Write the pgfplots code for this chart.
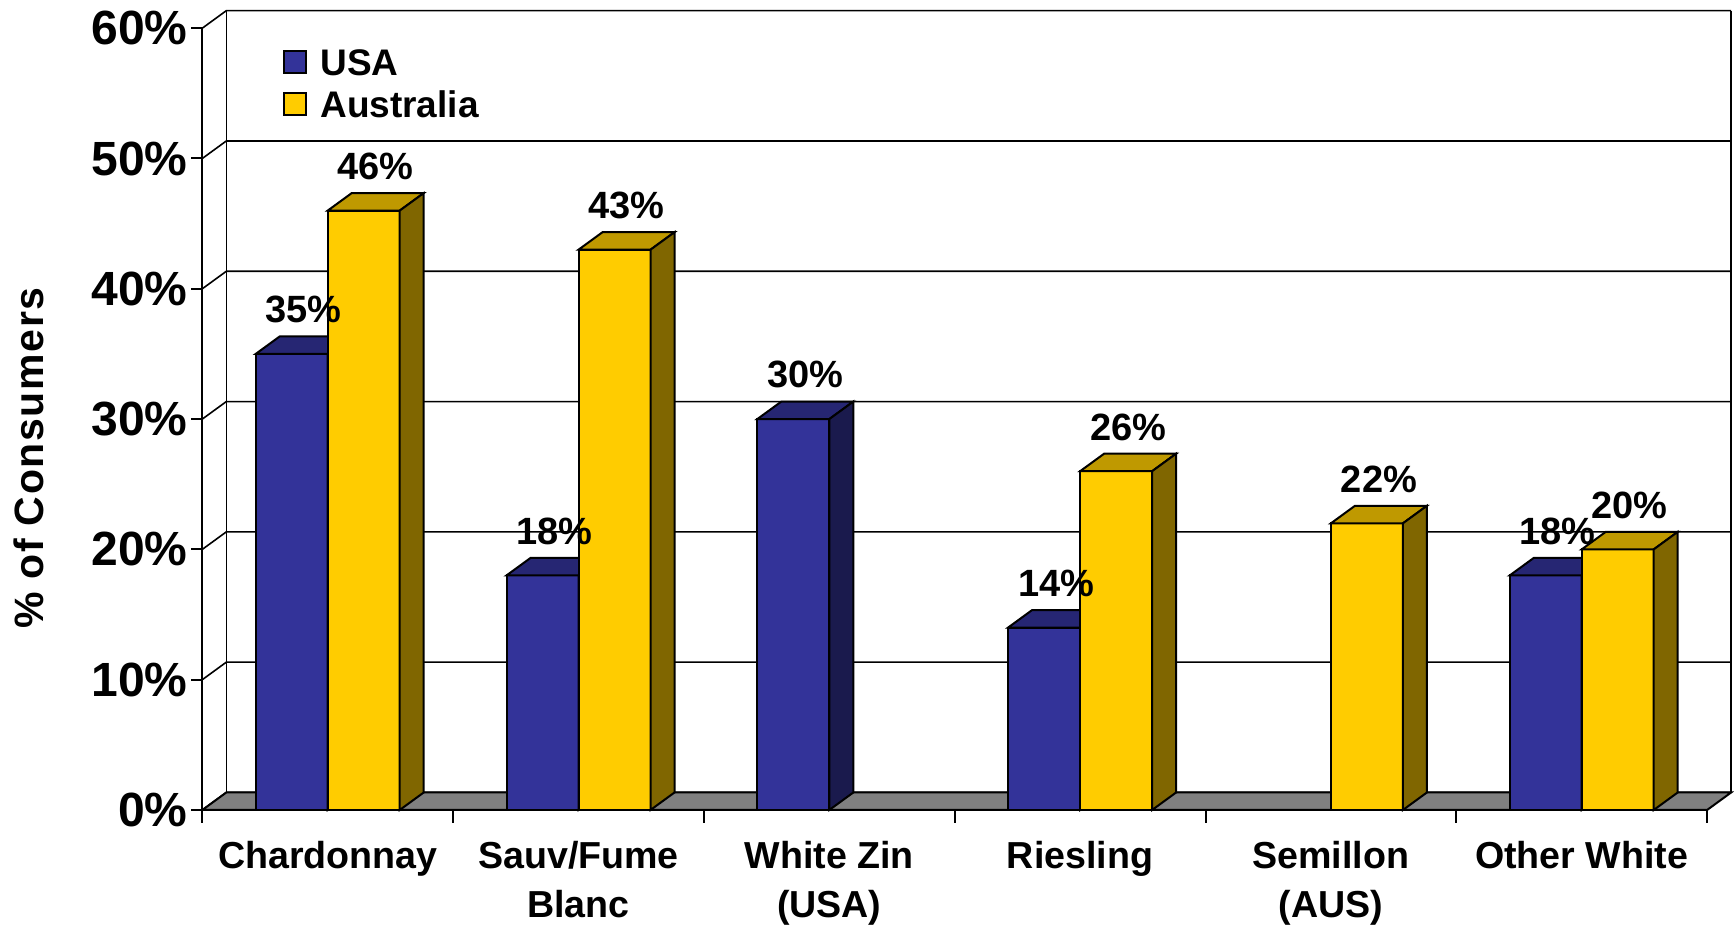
\documentclass[border=0pt]{standalone}
\usepackage{fontspec}
\setmainfont{Liberation Sans}
\newfontfamily\titlefam{Liberation Sans}[LetterSpace=4]
\usepackage{pgfplots}
\pgfplotsset{compat=1.18}
\usepackage{pgfplotstable}

\definecolor{usa}{HTML}{333399}
\definecolor{usatop}{HTML}{262673}
\definecolor{usaside}{HTML}{1A1A4D}
\definecolor{aus}{HTML}{FFCC00}
\definecolor{austop}{HTML}{BF9900}
\definecolor{ausside}{HTML}{806600}
\definecolor{floorgray}{HTML}{808080}

\newcommand\tickfont{\fontsize{12}{14}\selectfont\bfseries}
\newcommand\xlabfont{\fontsize{9.4}{12.1}\selectfont\bfseries}
\newcommand\datafont{\fontsize{9.5}{11}\selectfont\bfseries}
\newcommand\legfont{\fontsize{9.25}{11}\selectfont\bfseries}
\newcommand\titlefont{\titlefam\fontsize{10.25}{12}\selectfont\bfseries}

% % of consumers preferring each white wine variety
\pgfplotstableread{
x v
0 35
1 18
2 30
3 14
5 18
}\usadata
\pgfplotstableread{
x v
0 46
1 43
3 26
4 22
5 20
}\ausdata

% front, top and side faces of a 3D bar, drawn at the top-centre of its front face
\pgfdeclareplotmark{usabar}{%
  \filldraw[fill=usa,draw=black,line width=0.5pt] (-9pt,0pt) rectangle (9pt,{-\barval*3.2575pt});
  \filldraw[fill=usatop,draw=black,line width=0.5pt] (-9pt,0pt) -- (9pt,0pt) -- (15pt,4.375pt) -- (-3pt,4.375pt) -- cycle;
  \filldraw[fill=usaside,draw=black,line width=0.5pt] (9pt,0pt) -- (15pt,4.375pt) -- (15pt,{4.375pt-\barval*3.2575pt}) -- (9pt,{-\barval*3.2575pt}) -- cycle;
}
\pgfdeclareplotmark{ausbar}{%
  \filldraw[fill=aus,draw=black,line width=0.5pt] (-9pt,0pt) rectangle (9pt,{-\barval*3.2575pt});
  \filldraw[fill=austop,draw=black,line width=0.5pt] (-9pt,0pt) -- (9pt,0pt) -- (15pt,4.375pt) -- (-3pt,4.375pt) -- cycle;
  \filldraw[fill=ausside,draw=black,line width=0.5pt] (9pt,0pt) -- (15pt,4.375pt) -- (15pt,{4.375pt-\barval*3.2575pt}) -- (9pt,{-\barval*3.2575pt}) -- cycle;
}

\begin{document}
\begin{tikzpicture}
\begin{axis}[
  x=62.7pt, y=3.2575pt,
  xmin=-0.5, xmax=5.5957, ymin=0, ymax=61.343,
  clip=false,
  axis line style={draw=none},
  xtick={0,1,2,3,4,5},
  xticklabels={Chardonnay,{Sauv/Fume\\Blanc},{White Zin\\(USA)},Riesling,{Semillon\\(AUS)},Other White},
  minor xtick={-0.5,0.5,1.5,2.5,3.5,4.5,5.5},
  ytick={0,10,20,30,40,50,60},
  yticklabels={0\%,10\%,20\%,30\%,40\%,50\%,60\%},
  xtick pos=left, ytick pos=left,
  tick align=outside,
  major tick length=0pt,
  minor tick length=3.25pt,
  major tick style={draw=none},
  minor tick style={black, line width=0.5pt},
  yticklabel style={font=\tickfont, anchor=east, inner sep=0pt, xshift=-3.5pt},
  xticklabel style={font=\xlabfont, align=center, anchor=north, inner sep=0pt, yshift=-7.7pt},
  legend image code/.code={\draw[#1] (0pt,-2.75pt) rectangle (5.5pt,2.75pt);},
  legend style={at={(axis cs:-0.18,58.45)}, anchor=north west, draw=none, fill=none,
    inner sep=0pt, font=\legfont, cells={anchor=west},
    nodes={inner sep=0pt, text depth=0pt}, row sep=3.8pt, column sep=3.25pt},
]
\coordinate (O) at (axis cs:-0.5,0);
% walls and gridlines
\pgfplotsinvokeforeach{0,10,20,30,40,50,60}{
  \draw[black, line width=0.4pt] (axis cs:-0.5,#1) -- ++(6pt,4.375pt) -- ++(376.2pt,0pt);
}
\draw[black, line width=0.4pt] (axis cs:-0.5,0) ++(6pt,4.375pt) -- ++(0pt,195.45pt);
\draw[black, line width=0.4pt] (axis cs:5.5,0) ++(6pt,4.375pt) -- ++(0pt,195.45pt);
% floor
\filldraw[fill=floorgray, draw=black, line width=0.5pt] (axis cs:-0.5,0) -- (axis cs:5.5,0) -- ++(6pt,4.375pt) -- ++(-376.2pt,0pt) -- cycle;
% front value axis
\draw[black, line width=0.5pt] (axis cs:-0.5,0) -- (axis cs:-0.5,60);
\pgfplotsinvokeforeach{0,10,20,30,40,50,60}{
  \draw[black, line width=0.5pt] (axis cs:-0.5,#1) -- ++(-2.75pt,0pt);
}

\addlegendimage{fill=usa, draw=black, line width=0.5pt}
\addlegendentry{USA}
\addlegendimage{fill=aus, draw=black, line width=0.5pt}
\addlegendentry{Australia}

% USA bars
\addplot[ybar, bar width=18pt, bar shift=0pt, fill=usa, draw=black, line width=0.5pt, forget plot]
  table[x expr=\thisrow{x}-0.14354, y=v]{\usadata};
\addplot[only marks, mark=usabar, visualization depends on={rawy \as \barval}, forget plot]
  table[x expr=\thisrow{x}-0.14354, y=v]{\usadata};
% Australia bars
\addplot[ybar, bar width=18pt, bar shift=0pt, fill=aus, draw=black, line width=0.5pt, forget plot]
  table[x expr=\thisrow{x}+0.14354, y=v]{\ausdata};
\addplot[only marks, mark=ausbar, visualization depends on={rawy \as \barval}, forget plot]
  table[x expr=\thisrow{x}+0.14354, y=v]{\ausdata};
% value labels
\addplot[draw=none, forget plot, point meta=y,
  nodes near coords={\pgfmathprintnumber[fixed,precision=0,assume math mode=true]{\pgfplotspointmeta}\%},
  nodes near coords style={font=\datafont, anchor=south, inner sep=0pt, xshift=3pt, yshift=7.5pt}]
  table[x expr=\thisrow{x}-0.14354, y=v]{\usadata};
\addplot[draw=none, forget plot, point meta=y,
  nodes near coords={\pgfmathprintnumber[fixed,precision=0,assume math mode=true]{\pgfplotspointmeta}\%},
  nodes near coords style={font=\datafont, anchor=south, inner sep=0pt, xshift=3pt, yshift=7.5pt}]
  table[x expr=\thisrow{x}+0.14354, y=v]{\ausdata};

\node[rotate=90, anchor=base, inner sep=0pt, font=\titlefont] at ([xshift=-39.8pt]axis cs:-0.5,27) {\% of Consumers};
\end{axis}
\pgfresetboundingbox
\path[use as bounding box] (O) ++(-50.575pt,-29.25pt) rectangle ++(433.5pt,231.75pt);
\end{tikzpicture}
\end{document}
